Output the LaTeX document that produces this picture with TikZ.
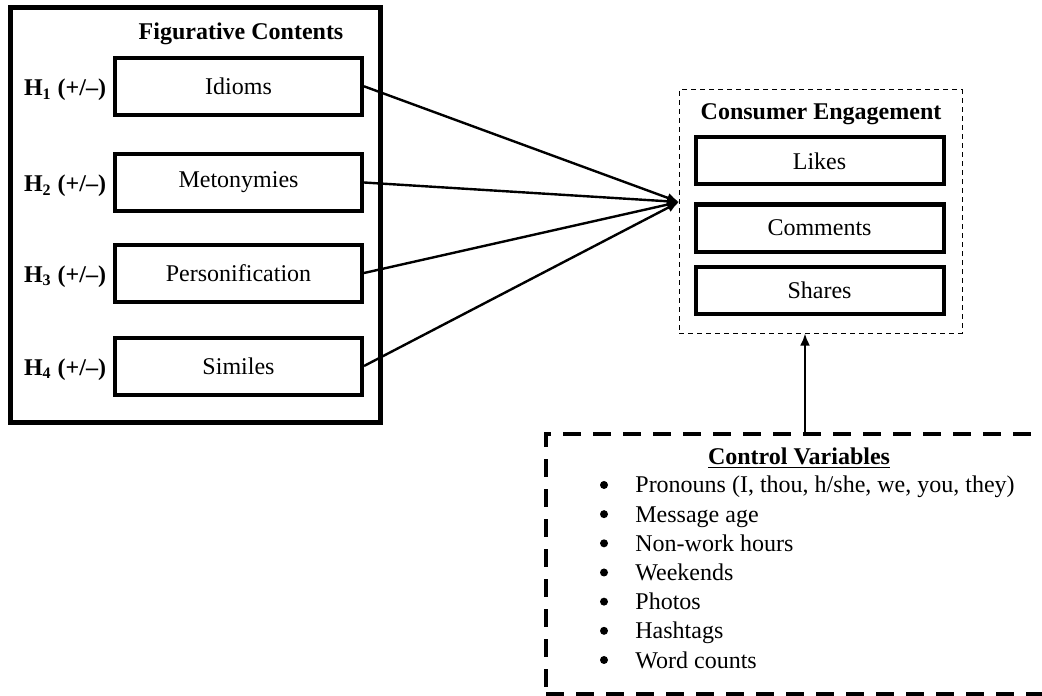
\documentclass[tikz,border=0pt]{standalone}
\usepackage{fontspec}
\setmainfont{Liberation Serif}
\usetikzlibrary{arrows.meta}

\begin{document}
\begin{tikzpicture}[x=5pt,y=-5pt,
    every node/.style={font=\fontsize{12}{14.5}\selectfont},
    facteur/.style={draw,line width=2pt,minimum width=123.5pt,minimum height=28.5pt,inner sep=0pt},
    reponse/.style={draw,line width=2pt,minimum width=124pt,minimum height=23.5pt,inner sep=0pt},
    titre/.style={font=\fontsize{12}{14.5}\selectfont\bfseries,anchor=base},
    fleche/.style={-{Latex[length=6pt,width=5pt]},line width=1.2pt}]
  \useasboundingbox (0,0) rectangle (104.2,69.5);
  % Les contenus figuratifs
  \draw[line width=2.5pt] (1.05,0.75) rectangle (38.05,42.25);
  \node[titre] (fc) at (24.1,4.0) {Figurative Contents};
  \foreach \nom/\y/\i in {Idioms/8.63/1,Metonymies/18.25/2,Personification/27.3/3,Similes/36.6/4} {
    \node[facteur] (f\i) at (23.85,\y) {\nom};
    \node[font=\fontsize{12}{14.5}\selectfont\bfseries] (h\i) at (6.5,\y+0.35) {H\textsubscript{\i} (+/--)};
  }
  % L'engagement
  \node[draw,line width=0.5pt,dash pattern=on 2.5pt off 2pt,
      minimum width=141.5pt,minimum height=121.5pt] (ce) at (82.05,21.15) {};
  \node[titre] (cet) at (82.1,11.93) {Consumer Engagement};
  \node[reponse] (likes) at (81.95,16.1) {Likes};
  \node[reponse] (comments) at (81.95,22.8) {Comments};
  \node[reponse] (shares) at (81.95,29.0) {Shares};
  \coordinate (ce-in) at (67.9,20.2);
  \foreach \i in {1,...,4} \draw[fleche] (f\i.east) -- (ce-in);
  % Les variables de controle
  \node[draw,line width=2pt,dash pattern=on 9pt off 6pt,
      minimum width=251pt,minimum height=130.25pt] (cv) at (79.7,56.38) {};
  \node[titre] (cvt) at (79.9,46.4) {\underline{Control Variables}};
  \foreach \t [count=\i] in {{Pronouns (I, thou, h/she, we, you, they)},Message age,
      Non-work hours,Weekends,Photos,Hashtags,Word counts} {
    \node[anchor=base west,inner sep=0pt] (v\i) at (63.5,46.38+2.917*\i) {\t};
    \fill (60.4,45.58+2.917*\i) circle [radius=2pt];
  }
  \coordinate (cv-out) at (80.5,40);
  \draw[fleche] (cv.north -| cv-out) -- (ce.south -| cv-out);
\end{tikzpicture}
\end{document}
